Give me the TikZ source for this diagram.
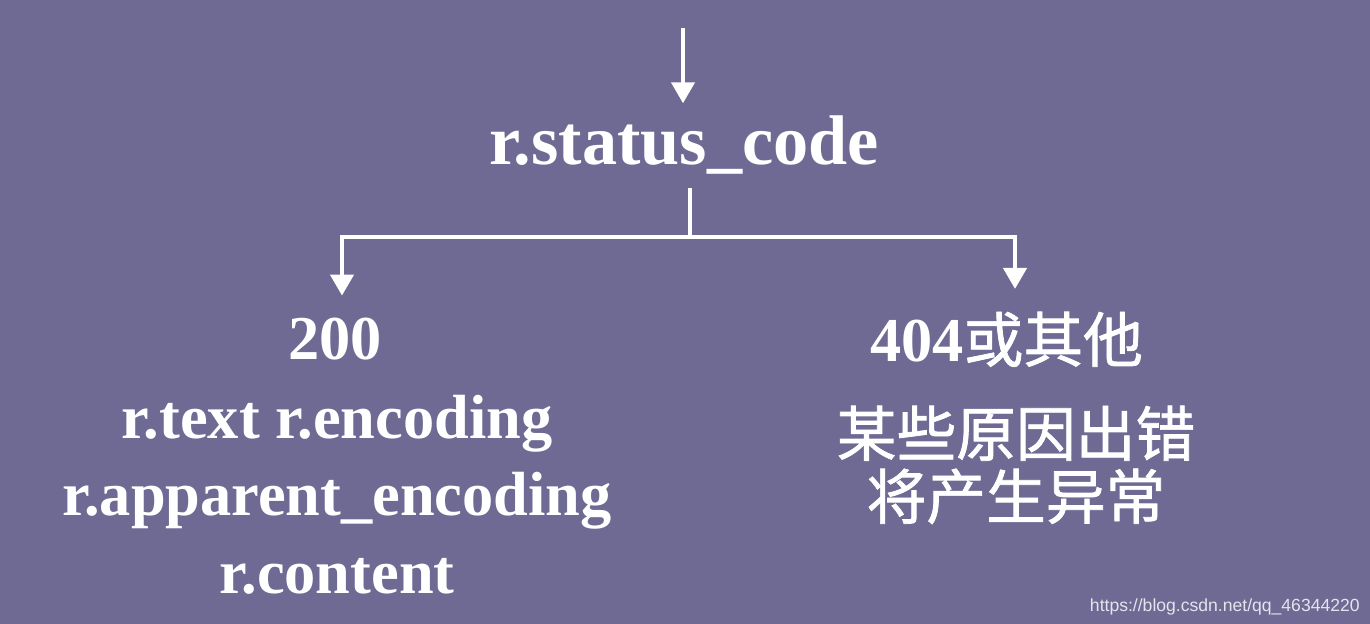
\documentclass[tikz,border=0pt]{standalone}
\usepackage{fontspec}
\setmainfont{Liberation Serif}
\newfontfamily\cjkfont[FakeBold=1.2]{Noto Sans CJK SC}
\newfontfamily\markfont{Liberation Sans}
\usetikzlibrary{arrows.meta, positioning, calc}
\definecolor{slidebg}{RGB}{110, 106, 148}
\definecolor{markgray}{RGB}{228, 228, 236}

\begin{document}
\begin{tikzpicture}[
    title/.style={text=white, font=\fontsize{40}{48}\selectfont\bfseries, inner xsep=0pt, inner ysep=0.25cm},
    item/.style={text=white, font=\fontsize{35.5}{44}\selectfont\bfseries, align=center, inner sep=0pt},
    cjk/.style={text=white, font=\fontsize{34}{35.8}\selectfont\cjkfont, align=center, inner sep=0pt},
    link/.style={draw=white, line width=2.7pt},
    flow/.style={link, -{Triangle[width=13pt, length=12pt]}},
]
    % Slide
    \fill[slidebg] (0, 0) rectangle (27.4, 12.48);
    \useasboundingbox (0, 0) rectangle (27.4, 12.48);

    % Status code
    \node[title, anchor=base] (status) at (13.68, 9.18) {r.status\_code};
    \coordinate (entry) at (13.66, 11.92);
    \coordinate (split) at (13.80, 7.74);

    % 200
    \node[item, anchor=base] (okhead) at (6.70, 5.28) {200};
    \node[item, anchor=north] (okbody) at (6.74, 4.58) {
        r.text r.encoding\\
        r.apparent\_encoding\\
        r.content
    };

    % 404
    \node[item, anchor=base] (errhead) at (20.13, 5.24) {404{\cjkfont\fontsize{34}{36}\selectfont\mdseries 或其他}};
    \node[cjk, anchor=north] (errbody) at (20.32, 4.37) {
        某些原因出错\\
        将产生异常
    };

    % Connectors
    \draw[flow] (entry) -- (entry |- status.north);
    \draw[link] (status.south -| split) -- (split);
    \draw[flow, shorten >=0.45cm] (split) -| ([xshift=0.14cm]okhead.north);
    \draw[flow, shorten >=0.45cm] (split) -| ([xshift=0.17cm]errhead.north);

    % Watermark
    \node[anchor=base east, inner sep=0pt, text=markgray, font=\fontsize{10}{12}\selectfont\markfont] (mark) at (27.2, 0.24) {https://blog.csdn.net/qq\_46344220};
\end{tikzpicture}
\end{document}
